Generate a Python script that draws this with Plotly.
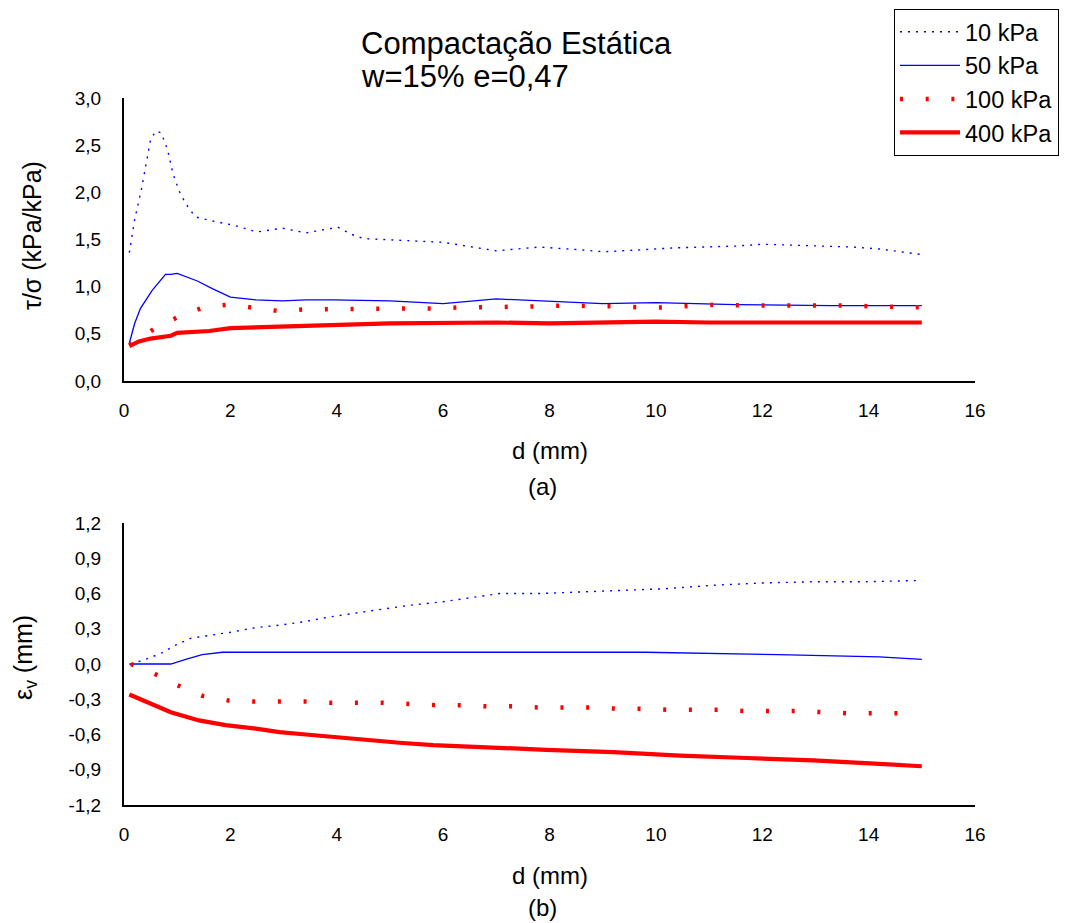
import plotly.graph_objects as go

# ---------------- data: top chart (tau/sigma vs d) ----------------
d10_a = [0.1, 0.2, 0.33, 0.42, 0.5, 0.6, 0.7, 0.82, 0.92, 1.04, 1.16, 1.34, 1.63, 2.07, 2.5, 2.98, 3.42,
         4.02, 4.3, 4.5, 5.2, 6.0, 7.0, 7.8, 8.6, 9.0, 9.7, 10.3, 10.9, 11.5, 12.0, 12.5, 13.1, 13.7,
         14.2, 14.6, 15.0]
v10_a = [1.36, 1.71, 2.04, 2.32, 2.56, 2.65, 2.63, 2.45, 2.20, 2.01, 1.88, 1.74, 1.70, 1.65, 1.58, 1.62,
         1.57, 1.63, 1.55, 1.51, 1.49, 1.47, 1.38, 1.42, 1.39, 1.37, 1.39, 1.41, 1.42, 1.43, 1.45, 1.44,
         1.43, 1.42, 1.40, 1.37, 1.34]

d50_a = [0.1, 0.2, 0.31, 0.53, 0.78, 0.88, 1.0, 1.38, 1.66, 2.0, 2.48, 2.98, 3.42, 3.92, 5.0, 6.0, 7.0,
         9.0, 10.0, 11.5, 13.3, 15.0]
v50_a = [0.40, 0.61, 0.77, 0.96, 1.13, 1.13, 1.14, 1.06, 0.98, 0.89, 0.86, 0.85, 0.86, 0.86, 0.85, 0.82,
         0.87, 0.82, 0.83, 0.81, 0.80, 0.80]

d100_a = [0.1, 0.56, 1.02, 1.49, 1.98, 2.45, 2.93, 3.42, 3.9, 4.39, 4.88, 5.37, 5.85, 6.34, 6.82, 7.31,
          7.8, 8.29, 8.77, 9.26, 9.74, 10.23, 10.72, 11.2, 11.69, 12.18, 12.66, 13.15, 13.63, 14.12,
          14.61, 15.0]
v100_a = [0.38, 0.55, 0.68, 0.78, 0.81, 0.78, 0.74, 0.76, 0.76, 0.76, 0.76, 0.77, 0.77, 0.78, 0.78,
          0.78, 0.79, 0.80, 0.80, 0.79, 0.78, 0.78, 0.80, 0.81, 0.80, 0.80, 0.81, 0.81, 0.80, 0.79,
          0.78, 0.78]

d400_a = [0.1, 0.28, 0.5, 0.88, 1.0, 1.6, 2.0, 2.5, 3.0, 3.9, 5.0, 7.0, 8.0, 10.0, 11.0, 12.6, 15.0]
v400_a = [0.37, 0.42, 0.45, 0.48, 0.51, 0.53, 0.56, 0.57, 0.58, 0.59, 0.61, 0.62, 0.61, 0.63, 0.62,
          0.62, 0.62]

# ---------------- data: bottom chart (eps_v vs d) ----------------
d10_b = [0.13, 0.41, 0.69, 0.97, 1.26, 1.57, 2.0, 2.48, 2.92, 3.39, 3.86, 4.3, 4.9, 5.37, 6.0, 6.59,
         7.06, 7.82, 9.2, 10.14, 11.08, 12.02, 12.96, 13.9, 14.9]
v10_b = [0.0, 0.04, 0.09, 0.16, 0.22, 0.24, 0.27, 0.31, 0.33, 0.36, 0.40, 0.43, 0.47, 0.50, 0.53, 0.57,
         0.60, 0.60, 0.62, 0.64, 0.67, 0.69, 0.70, 0.70, 0.71]

d50_b = [0.1, 0.88, 1.16, 1.47, 1.85, 2.5, 7.0, 9.8, 12.3, 13.6, 14.2, 15.0]
v50_b = [0.0, 0.0, 0.04, 0.08, 0.10, 0.10, 0.10, 0.10, 0.08, 0.07, 0.06, 0.04]

d100_b = [0.13, 0.56, 1.0, 1.47, 1.96, 2.45, 2.93, 3.42, 3.9, 4.39, 4.88, 5.37, 5.85, 6.34, 6.82, 7.32,
          7.8, 8.29, 8.77, 9.26, 9.74, 10.23, 10.72, 11.2, 11.69, 12.18, 12.66, 13.15, 13.63, 14.12,
          14.61]
v100_b = [0.0, -0.08, -0.18, -0.27, -0.31, -0.32, -0.32, -0.32, -0.33, -0.33, -0.33, -0.34, -0.35,
          -0.35, -0.36, -0.36, -0.37, -0.37, -0.37, -0.38, -0.38, -0.39, -0.39, -0.39, -0.40, -0.40,
          -0.40, -0.41, -0.42, -0.42, -0.42]

d400_b = [0.1, 0.47, 0.88, 1.41, 1.91, 2.48, 2.92, 3.42, 3.92, 4.55, 5.18, 5.81, 6.69, 7.94, 9.2, 10.45,
          11.71, 12.96, 14.2, 15.0]
v400_b = [-0.26, -0.33, -0.41, -0.48, -0.52, -0.55, -0.58, -0.60, -0.62, -0.65, -0.67, -0.69, -0.71,
          -0.73, -0.75, -0.78, -0.80, -0.82, -0.85, -0.87]

series_names = ["10 kPa", "50 kPa", "100 kPa", "400 kPa"]

x_ticks = [0, 2, 4, 6, 8, 10, 12, 14, 16]
x_labels = ["0", "2", "4", "6", "8", "10", "12", "14", "16"]
y1_ticks = [0.0, 0.5, 1.0, 1.5, 2.0, 2.5, 3.0]
y1_labels = ["0,0", "0,5", "1,0", "1,5", "2,0", "2,5", "3,0"]
y2_ticks = [-1.2, -0.9, -0.6, -0.3, 0.0, 0.3, 0.6, 0.9, 1.2]
y2_labels = ["-1,2", "-0,9", "-0,6", "-0,3", "0,0", "0,3", "0,6", "0,9", "1,2"]

title_line1 = "Compactação Estática"
title_line2 = "w=15% e=0,47"

# ---------------- page geometry ----------------
# the HTML body adds an 8px margin; the figure is sized so that page == 1067x923
OFF = 8
W, H = 1067 - OFF, 923 - OFF

FONT = "Liberation Sans, Arial, sans-serif"
BLUE = "#0000FF"
RED = "#FF0000"
styles = [
    dict(color=BLUE, width=1.4, dash="2px,6px"),
    dict(color=BLUE, width=1.3),
    dict(color=RED, width=4.5, dash="3px,22.7px"),
    dict(color=RED, width=4.2),
]

fig = go.Figure()
top = [(d10_a, v10_a), (d50_a, v50_a), (d100_a, v100_a), (d400_a, v400_a)]
bot = [(d10_b, v10_b), (d50_b, v50_b), (d100_b, v100_b), (d400_b, v400_b)]
for i, (x, y) in enumerate(top):
    fig.add_trace(go.Scatter(x=x, y=y, mode="lines", name=series_names[i], line=styles[i],
                             xaxis="x", yaxis="y", legendgroup=series_names[i], showlegend=True))
for i, (x, y) in enumerate(bot):
    fig.add_trace(go.Scatter(x=x, y=y, mode="lines", name=series_names[i], line=styles[i],
                             xaxis="x2", yaxis="y2", legendgroup=series_names[i], showlegend=False))


def px(x):
    return (x - OFF) / W


def py(y):
    return 1 - (y - OFF) / H


xdom = [px(124), px(975)]
axis_common = dict(showline=True, linecolor="black", linewidth=2, showgrid=False, zeroline=False,
                   ticks="", automargin=False,
                   tickfont=dict(family=FONT, size=19, color="black"))

fig.update_layout(
    template="none",
    width=W, height=H, autosize=False,
    margin=dict(l=0, r=0, t=0, b=0, pad=0),
    paper_bgcolor="white", plot_bgcolor="white",
    font=dict(family=FONT, color="black"),
    xaxis=dict(domain=xdom, range=[0, 16], tickvals=x_ticks, ticktext=x_labels, anchor="y",
               ticklabelstandoff=11, **axis_common),
    yaxis=dict(domain=[py(381), py(98)], range=[0, 3], tickvals=y1_ticks, ticktext=y1_labels,
               anchor="x", ticklabelstandoff=17, **axis_common),
    xaxis2=dict(domain=xdom, range=[0, 16], tickvals=x_ticks, ticktext=x_labels, anchor="y2",
                ticklabelstandoff=11, **axis_common),
    yaxis2=dict(domain=[py(805), py(523)], range=[-1.2, 1.2], tickvals=y2_ticks, ticktext=y2_labels,
                anchor="x2", ticklabelstandoff=17, **axis_common),
    legend=dict(x=px(894), y=py(9), xanchor="left", yanchor="top",
                bgcolor="white", bordercolor="black", borderwidth=1,
                font=dict(family=FONT, size=23.5, color="black"), itemwidth=60,
                tracegroupgap=0),
    showlegend=True,
)

ann = [
    dict(text=title_line1, x=px(359), y=py(44), xanchor="left", yanchor="middle", font_size=31),
    dict(text=title_line2, x=px(359), y=py(77), xanchor="left", yanchor="middle", font_size=31),
    dict(text="d (mm)", x=px(550), y=py(450), xanchor="center", yanchor="middle", font_size=24),
    dict(text="(a)", x=px(542), y=py(486), xanchor="center", yanchor="middle", font_size=24),
    dict(text="d (mm)", x=px(550), y=py(875), xanchor="center", yanchor="middle", font_size=24),
    dict(text="(b)", x=px(542), y=py(907), xanchor="center", yanchor="middle", font_size=24),
    dict(text="τ/σ (kPa/kPa)", x=px(32), y=py(236), xanchor="center", yanchor="middle",
         font_size=25, textangle=-90),
    dict(text="ε<sub>v</sub> (mm)", x=px(25), y=py(658), xanchor="center", yanchor="middle",
         font_size=25, textangle=-90),
]
for a in ann:
    fs = a.pop("font_size")
    fig.add_annotation(xref="paper", yref="paper", showarrow=False,
                       font=dict(family=FONT, size=fs, color="black"), **a)

fig.write_html("out.html")
